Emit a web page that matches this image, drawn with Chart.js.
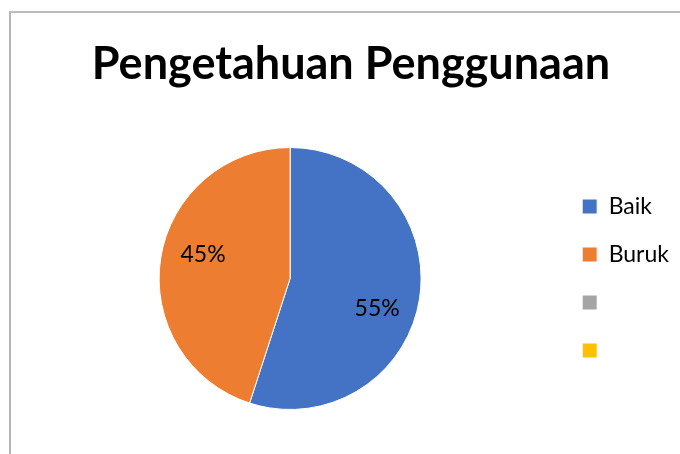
<!DOCTYPE html>
<html>
<head>
<meta charset="utf-8">
<script src="https://cdn.jsdelivr.net/npm/chart.js@4.4.1/dist/chart.umd.min.js"></script>
<style>
  html, body { margin: 0; padding: 0; background: #ffffff; }
  #wrap { position: relative; width: 680px; height: 454px; overflow: hidden; }
  #frame { position: absolute; left: 9px; top: 11px; width: 700px; height: 460px;
           border-left: 2px solid #b5b5b5; border-top: 2px solid #bcbcbc; box-sizing: border-box; }
  #c { position: absolute; left: 0; top: 0; }
</style>
</head>
<body>
<div id="wrap">
  <div id="frame"></div>
  <canvas id="c" width="680" height="454"></canvas>
</div>
<script>
const chartTitle = 'Pengetahuan Penggunaan';
const categories = ['Baik', 'Buruk', '', ''];
const values = [55, 45, 0, 0];
const sliceColors = ['#4472C4', '#ED7D31', '#A5A5A5', '#FFC000'];

const FONT = "Lato, 'Open Sans', sans-serif";

const pctLabels = {
  id: 'pctLabels',
  afterDatasetsDraw(chart) {
    const ctx = chart.ctx;
    const meta = chart.getDatasetMeta(0);
    const data = chart.data.datasets[0].data;
    const total = data.reduce((a, b) => a + b, 0);
    ctx.save();
    ctx.font = "23px " + FONT;
    ctx.fillStyle = '#000000';
    ctx.textAlign = 'center';
    ctx.textBaseline = 'middle';
    meta.data.forEach((arc, i) => {
      const v = data[i];
      if (!v) return;
      const p = arc.getProps(['x', 'y', 'startAngle', 'endAngle', 'outerRadius'], true);
      const mid = (p.startAngle + p.endAngle) / 2 + 8 * Math.PI / 180;
      const r = p.outerRadius * 0.695;
      const txt = Math.round(v / total * 100) + '%';
      ctx.fillText(txt, p.x + Math.cos(mid) * r, p.y + Math.sin(mid) * r + 3);
    });
    ctx.restore();
  }
};

new Chart(document.getElementById('c'), {
  type: 'pie',
  data: {
    labels: categories,
    datasets: [{
      data: values,
      backgroundColor: sliceColors,
      borderColor: '#ffffff',
      borderWidth: 1
    }]
  },
  options: {
    responsive: false,
    animation: false,
    layout: { padding: { left: 23, right: 1, top: 0, bottom: 44 } },
    plugins: {
      title: {
        display: true,
        text: chartTitle,
        color: '#000000',
        font: { family: FONT, size: 45, weight: 'bold', lineHeight: 1.2 },
        padding: { top: 37, bottom: 56 }
      },
      legend: {
        display: true,
        position: 'right',
        align: 'center',
        fullSize: false,
        labels: {
          color: '#000000',
          font: { family: FONT, size: 23 },
          boxWidth: 15,
          boxHeight: 15,
          padding: 25
        }
      },
      tooltip: { enabled: false }
    }
  },
  plugins: [pctLabels]
});
</script>
</body>
</html>
